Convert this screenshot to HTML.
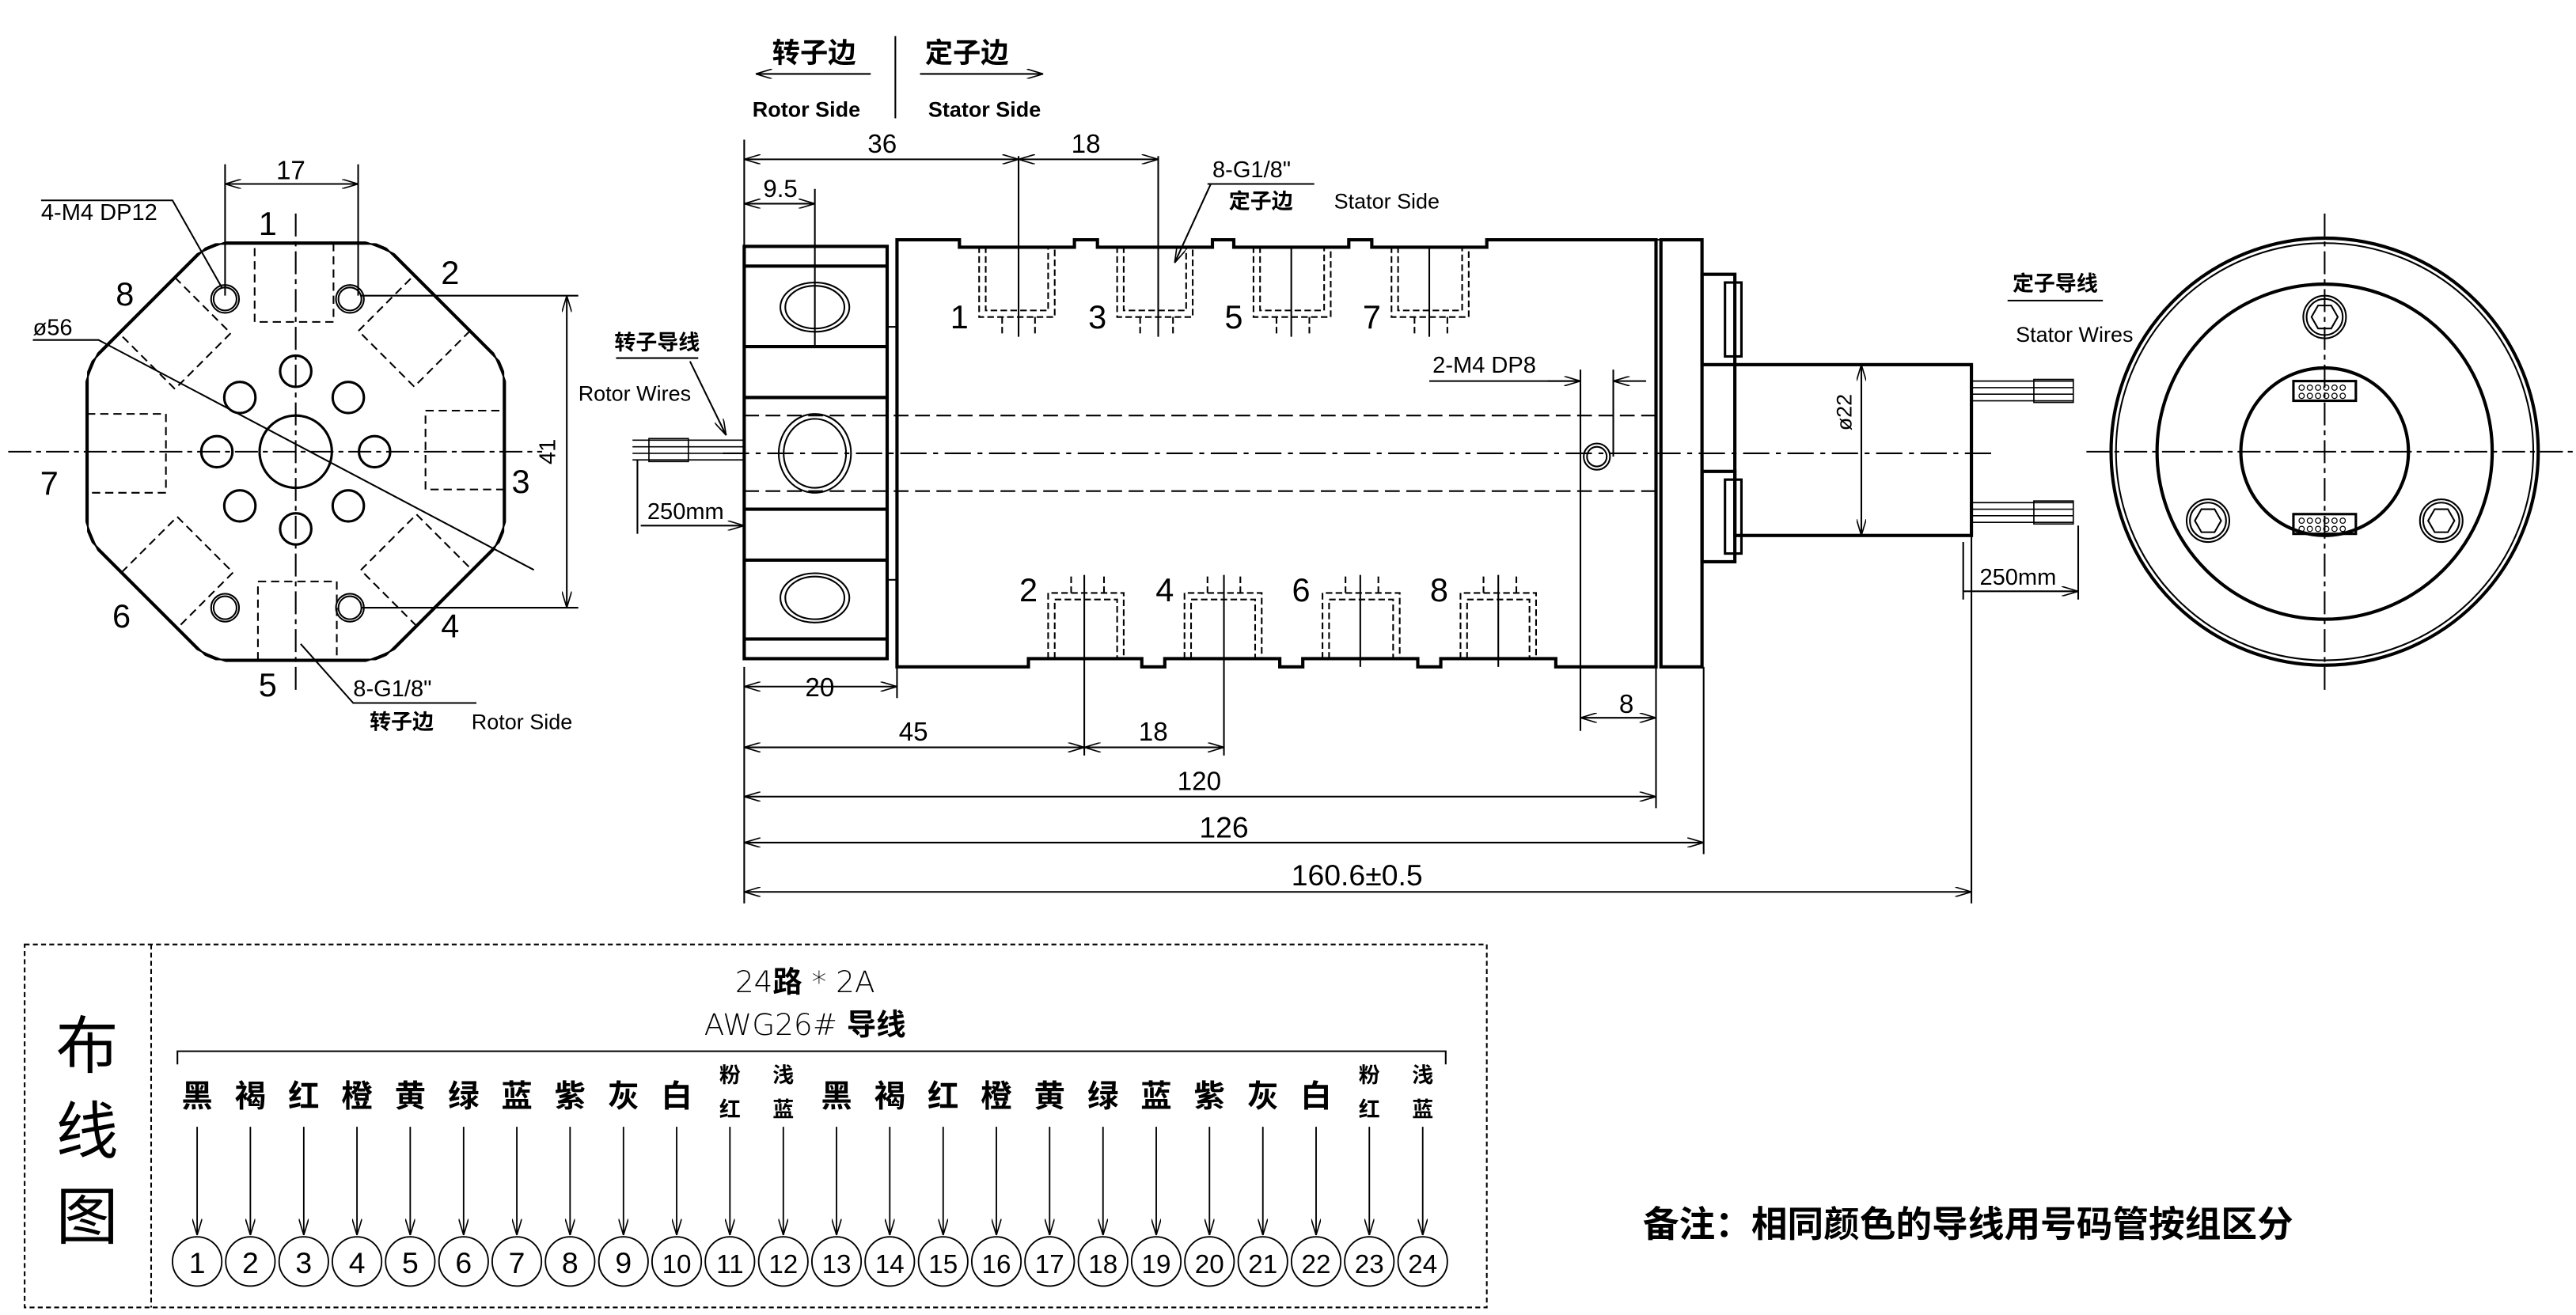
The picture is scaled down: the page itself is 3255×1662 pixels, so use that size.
<!DOCTYPE html>
<html><head><meta charset="utf-8"><style>
html,body{margin:0;padding:0;background:#fff;}
svg{display:block}
text{font-family:"Liberation Sans","Noto Sans CJK SC",sans-serif;fill:#000}
.c{font-family:"Noto Sans CJK SC","WenQuanYi Zen Hei",sans-serif;font-weight:bold}
.t{font-family:"DejaVu Sans","Liberation Sans",sans-serif;font-weight:200}
</style></head><body>
<svg width="3255" height="1662" viewBox="0 0 1568 800.6" preserveAspectRatio="none" xmlns="http://www.w3.org/2000/svg">
<defs>
<marker id="a" viewBox="0 0 10 6" refX="10" refY="3" markerWidth="10" markerHeight="6" orient="auto-start-reverse" markerUnits="userSpaceOnUse"><path d="M0,0 L10,3 L0,6" fill="none" stroke="#000" stroke-width="0.8"/></marker>
<clipPath id="cc"><circle cx="180" cy="275" r="135"/></clipPath>
<clipPath id="co"><polygon points="232.6,148 307,222.4 307,327.6 232.6,402 127.4,402 53,327.6 53,222.4 127.4,148"/></clipPath>
</defs>
<g fill="none" stroke="#000" stroke-width="1">

<!-- LEFT VIEW -->
<polygon points="232.6,148 307,222.4 307,327.6 232.6,402 127.4,402 53,327.6 53,222.4 127.4,148" stroke-width="2" clip-path="url(#cc)"/>
<circle cx="180" cy="275" r="135" stroke-width="2" clip-path="url(#co)"/>
<line x1="5" y1="275" x2="330" y2="275" stroke-dasharray="14,3,3,3"/>
<line x1="180" y1="130" x2="180" y2="420" stroke-dasharray="14,3,3,3"/>
<circle cx="180" cy="275" r="22" stroke-width="1.5"/>
<g stroke-width="1.5">
<circle cx="180" cy="226" r="9.5"/><circle cx="212" cy="242" r="9.5"/><circle cx="228" cy="275" r="9.5"/><circle cx="212" cy="308" r="9.5"/>
<circle cx="180" cy="322" r="9.5"/><circle cx="146" cy="308" r="9.5"/><circle cx="132" cy="275" r="9.5"/><circle cx="146" cy="242" r="9.5"/>
</g>
<g stroke-dasharray="5,3">
<g transform="rotate(0 180 275)"><rect x="155" y="148" width="48" height="48"/></g>
<g transform="rotate(45 180 275)"><rect x="155" y="148" width="48" height="48"/></g>
<g transform="rotate(90 180 275)"><rect x="155" y="148" width="48" height="48"/></g>
<g transform="rotate(135 180 275)"><rect x="155" y="148" width="48" height="48"/></g>
<g transform="rotate(180 180 275)"><rect x="155" y="148" width="48" height="48"/></g>
<g transform="rotate(225 180 275)"><rect x="155" y="148" width="48" height="48"/></g>
<g transform="rotate(270 180 275)"><rect x="155" y="148" width="48" height="48"/></g>
<g transform="rotate(315 180 275)"><rect x="155" y="148" width="48" height="48"/></g>
</g>
<g><circle cx="137" cy="182" r="7"/><circle cx="137" cy="182" r="8.5"/><circle cx="213" cy="182" r="7"/><circle cx="213" cy="182" r="8.5"/>
<circle cx="137" cy="370" r="7"/><circle cx="137" cy="370" r="8.5"/><circle cx="213" cy="370" r="7"/><circle cx="213" cy="370" r="8.5"/></g>
<!-- dims left -->
<line x1="137" y1="100" x2="137" y2="180"/><line x1="218" y1="100" x2="218" y2="180"/>
<line x1="137" y1="112" x2="218" y2="112" marker-start="url(#a)" marker-end="url(#a)"/>
<line x1="220" y1="180" x2="352" y2="180"/><line x1="220" y1="370" x2="352" y2="370"/>
<line x1="345" y1="180" x2="345" y2="370" marker-start="url(#a)" marker-end="url(#a)"/>
<polyline points="25,122 105,122 135,175"/>
<polyline points="20,207 60,207 325,347"/>
<polyline points="290,428 215,428 183,392"/>

<!-- SIDE VIEW -->
<rect x="453" y="150" width="87" height="251" stroke-width="2"/>
<g stroke-width="2"><line x1="453" y1="162" x2="540" y2="162"/><line x1="453" y1="211" x2="540" y2="211"/><line x1="453" y1="242" x2="540" y2="242"/><line x1="453" y1="310" x2="540" y2="310"/><line x1="453" y1="341" x2="540" y2="341"/><line x1="453" y1="389" x2="540" y2="389"/></g>
<ellipse cx="496" cy="187" rx="21" ry="15"/><ellipse cx="496" cy="187" rx="18" ry="13"/>
<ellipse cx="496" cy="276" rx="22" ry="24"/><ellipse cx="496" cy="276" rx="19" ry="21"/>
<ellipse cx="496" cy="364" rx="21" ry="15"/><ellipse cx="496" cy="364" rx="18" ry="13"/>
<line x1="496" y1="115" x2="496" y2="210"/>
<rect x="540" y="199" width="6" height="154"/>
<path d="M546,406 L546,146 L584,146 L584,150.5 L654,150.5 L654,146 L668,146 L668,150.5 L738,150.5 L738,146 L751,146 L751,150.5 L821,150.5 L821,146 L835,146 L835,150.5 L905,150.5 L905,146 L1008,146 L1008,406 L947,406 L947,401 L877,401 L877,406 L863,406 L863,401 L793,401 L793,406 L779,406 L779,401 L709,401 L709,406 L695,406 L695,401 L626,401 L626,406 Z" stroke-width="2"/>
<rect x="1011" y="146" width="25" height="260" stroke-width="2"/>
<line x1="1008" y1="146" x2="1011" y2="146"/>
<g stroke-dasharray="4,2">
<path d="M596,150 V193 H642 V150 M600,150 V189 H638 V150"/>
<path d="M680,150 V193 H726 V150 M684,150 V189 H722 V150"/>
<path d="M763,150 V193 H810 V150 M767,150 V189 H806 V150"/>
<path d="M847,150 V193 H894 V150 M851,150 V189 H890 V150"/>
<path d="M638,401 V361 H684 V401 M642,401 V365 H680 V401"/>
<path d="M721,401 V361 H768 V401 M725,401 V365 H764 V401"/>
<path d="M805,401 V361 H852 V401 M809,401 V365 H848 V401"/>
<path d="M889,401 V361 H935 V401 M893,401 V365 H931 V401"/>
<path d="M610,193 V203 M630,193 V203 M694,193 V203 M714,193 V203 M777,193 V203 M797,193 V203 M861,193 V203 M881,193 V203"/>
<path d="M652,361 V350 M672,361 V350 M735,361 V350 M755,361 V350 M819,361 V350 M839,361 V350 M903,361 V350 M923,361 V350"/>
</g>
<g><line x1="620" y1="95" x2="620" y2="205"/><line x1="705" y1="95" x2="705" y2="205"/><line x1="786" y1="150" x2="786" y2="205"/><line x1="870" y1="150" x2="870" y2="205"/>
<line x1="660" y1="350" x2="660" y2="460"/><line x1="745" y1="350" x2="745" y2="460"/><line x1="828" y1="350" x2="828" y2="406"/><line x1="912" y1="350" x2="912" y2="406"/></g>
<line x1="453" y1="253" x2="1008" y2="253" stroke-dasharray="9,4"/>
<line x1="453" y1="299" x2="1008" y2="299" stroke-dasharray="9,4"/>
<line x1="440" y1="276" x2="1215" y2="276" stroke-dasharray="16,4,3,4"/>
<circle cx="972" cy="278" r="8"/><circle cx="972" cy="278" r="6"/>
<polyline points="870,232 962,232"/>
<line x1="962" y1="225" x2="962" y2="445"/><line x1="982" y1="225" x2="982" y2="278"/>
<line x1="942" y1="232" x2="962" y2="232" marker-end="url(#a)"/><line x1="1002" y1="232" x2="982" y2="232" marker-end="url(#a)"/>
<!-- stator connectors & shaft -->
<rect x="1036" y="167" width="20" height="55" stroke-width="2"/><rect x="1050" y="172" width="10" height="45" stroke-width="1.5"/>
<rect x="1036" y="287" width="20" height="55" stroke-width="2"/><rect x="1050" y="292" width="10" height="45" stroke-width="1.5"/>
<rect x="1056" y="222" width="144" height="104" stroke-width="2"/>
<g stroke-width="0.8">
<path d="M1200,232 H1262 M1200,236 H1262 M1200,240 H1262 M1200,244 H1262"/><rect x="1238" y="231" width="24" height="14"/>
<path d="M1200,306 H1262 M1200,310 H1262 M1200,314 H1262 M1200,318 H1262"/><rect x="1238" y="305" width="24" height="14"/>
<path d="M385,268 H453 M385,272 H453 M385,276 H453 M385,280 H453"/><rect x="395" y="267" width="24" height="14"/>
</g>
<!-- side view dims -->
<line x1="453" y1="85" x2="453" y2="150"/>
<line x1="453" y1="97" x2="620" y2="97" marker-start="url(#a)" marker-end="url(#a)"/>
<line x1="620" y1="97" x2="705" y2="97" marker-start="url(#a)" marker-end="url(#a)"/>
<line x1="453" y1="124" x2="496" y2="124" marker-start="url(#a)" marker-end="url(#a)"/>
<line x1="453" y1="406" x2="453" y2="550"/><line x1="546" y1="406" x2="546" y2="425"/>
<line x1="1008" y1="406" x2="1008" y2="492"/><line x1="1037" y1="406" x2="1037" y2="520"/><line x1="1200" y1="326" x2="1200" y2="550"/>
<line x1="453" y1="418" x2="546" y2="418" marker-start="url(#a)" marker-end="url(#a)"/>
<line x1="962" y1="437" x2="1008" y2="437" marker-start="url(#a)" marker-end="url(#a)"/>
<line x1="453" y1="455" x2="660" y2="455" marker-start="url(#a)" marker-end="url(#a)"/>
<line x1="660" y1="455" x2="745" y2="455" marker-start="url(#a)" marker-end="url(#a)"/>
<line x1="453" y1="485" x2="1008" y2="485" marker-start="url(#a)" marker-end="url(#a)"/>
<line x1="453" y1="513" x2="1037" y2="513" marker-start="url(#a)" marker-end="url(#a)"/>
<line x1="453" y1="543" x2="1200" y2="543" marker-start="url(#a)" marker-end="url(#a)"/>
<line x1="1120" y1="222" x2="1140" y2="222"/><line x1="1120" y1="326" x2="1140" y2="326"/>
<line x1="1133" y1="222" x2="1133" y2="326" marker-start="url(#a)" marker-end="url(#a)"/>
<line x1="388" y1="280" x2="388" y2="325"/>
<line x1="390" y1="320" x2="453" y2="320" marker-end="url(#a)"/>
<line x1="1195" y1="330" x2="1195" y2="365"/><line x1="1265" y1="320" x2="1265" y2="365"/>
<line x1="1195" y1="360" x2="1265" y2="360" marker-end="url(#a)"/>
<polyline points="735,112 800,112"/><line x1="737" y1="112" x2="715" y2="160" marker-end="url(#a)"/>
<line x1="420" y1="220" x2="442" y2="265" marker-end="url(#a)"/>
<line x1="1222" y1="183" x2="1280" y2="183"/><line x1="375" y1="218" x2="425" y2="218"/>
<!-- header -->
<line x1="545" y1="22" x2="545" y2="72"/>
<line x1="530" y1="45" x2="460" y2="45" marker-end="url(#a)"/>
<line x1="560" y1="45" x2="635" y2="45" marker-end="url(#a)"/>

<!-- RIGHT END VIEW -->
<circle cx="1415" cy="275" r="130" stroke-width="2"/><circle cx="1415" cy="275" r="127" stroke-width="1"/>
<circle cx="1415" cy="275" r="102" stroke-width="2"/>
<circle cx="1415" cy="275" r="51" stroke-width="2"/>
<line x1="1270" y1="275" x2="1568" y2="275" stroke-dasharray="14,3,3,3"/>
<line x1="1415" y1="130" x2="1415" y2="420" stroke-dasharray="14,3,3,3"/>
<circle cx="1415" cy="193" r="13"/><circle cx="1415" cy="193" r="11"/><polygon points="1407,193 1411,186 1419,186 1423,193 1419,200 1411,200"/>
<circle cx="1344" cy="317" r="13"/><circle cx="1344" cy="317" r="11"/><polygon points="1336,317 1340,310 1348,310 1352,317 1348,324 1340,324"/>
<circle cx="1486" cy="317" r="13"/><circle cx="1486" cy="317" r="11"/><polygon points="1478,317 1482,310 1490,310 1494,317 1490,324 1482,324"/>
<rect x="1396" y="232" width="38" height="12" stroke-width="1.5"/>
<rect x="1396" y="313" width="38" height="12" stroke-width="1.5"/>
<g stroke-width="0.6"><circle cx="1401" cy="236" r="1.6"/><circle cx="1406" cy="236" r="1.6"/><circle cx="1411" cy="236" r="1.6"/><circle cx="1416" cy="236" r="1.6"/><circle cx="1421" cy="236" r="1.6"/><circle cx="1426" cy="236" r="1.6"/>
<circle cx="1401" cy="241" r="1.6"/><circle cx="1406" cy="241" r="1.6"/><circle cx="1411" cy="241" r="1.6"/><circle cx="1416" cy="241" r="1.6"/><circle cx="1421" cy="241" r="1.6"/><circle cx="1426" cy="241" r="1.6"/>
<circle cx="1401" cy="317" r="1.6"/><circle cx="1406" cy="317" r="1.6"/><circle cx="1411" cy="317" r="1.6"/><circle cx="1416" cy="317" r="1.6"/><circle cx="1421" cy="317" r="1.6"/><circle cx="1426" cy="317" r="1.6"/>
<circle cx="1401" cy="322" r="1.6"/><circle cx="1406" cy="322" r="1.6"/><circle cx="1411" cy="322" r="1.6"/><circle cx="1416" cy="322" r="1.6"/><circle cx="1421" cy="322" r="1.6"/><circle cx="1426" cy="322" r="1.6"/></g>

<!-- TABLE -->
<rect x="15" y="575" width="890" height="221" stroke-dasharray="3,2"/>
<line x1="92" y1="575" x2="92" y2="796" stroke-dasharray="3,2"/>
<polyline points="108,648 108,640 880,640 880,648"/>
</g>

<g fill="none" stroke="#000" stroke-width="0.9">
<line x1="120" y1="686" x2="120" y2="752" marker-end="url(#a)"/><circle cx="120" cy="768" r="15"/>
<line x1="152.4" y1="686" x2="152.4" y2="752" marker-end="url(#a)"/><circle cx="152.4" cy="768" r="15"/>
<line x1="184.9" y1="686" x2="184.9" y2="752" marker-end="url(#a)"/><circle cx="184.9" cy="768" r="15"/>
<line x1="217.3" y1="686" x2="217.3" y2="752" marker-end="url(#a)"/><circle cx="217.3" cy="768" r="15"/>
<line x1="249.7" y1="686" x2="249.7" y2="752" marker-end="url(#a)"/><circle cx="249.7" cy="768" r="15"/>
<line x1="282.2" y1="686" x2="282.2" y2="752" marker-end="url(#a)"/><circle cx="282.2" cy="768" r="15"/>
<line x1="314.6" y1="686" x2="314.6" y2="752" marker-end="url(#a)"/><circle cx="314.6" cy="768" r="15"/>
<line x1="347" y1="686" x2="347" y2="752" marker-end="url(#a)"/><circle cx="347" cy="768" r="15"/>
<line x1="379.5" y1="686" x2="379.5" y2="752" marker-end="url(#a)"/><circle cx="379.5" cy="768" r="15"/>
<line x1="411.9" y1="686" x2="411.9" y2="752" marker-end="url(#a)"/><circle cx="411.9" cy="768" r="15"/>
<line x1="444.3" y1="686" x2="444.3" y2="752" marker-end="url(#a)"/><circle cx="444.3" cy="768" r="15"/>
<line x1="476.8" y1="686" x2="476.8" y2="752" marker-end="url(#a)"/><circle cx="476.8" cy="768" r="15"/>
<line x1="509.2" y1="686" x2="509.2" y2="752" marker-end="url(#a)"/><circle cx="509.2" cy="768" r="15"/>
<line x1="541.6" y1="686" x2="541.6" y2="752" marker-end="url(#a)"/><circle cx="541.6" cy="768" r="15"/>
<line x1="574.1" y1="686" x2="574.1" y2="752" marker-end="url(#a)"/><circle cx="574.1" cy="768" r="15"/>
<line x1="606.5" y1="686" x2="606.5" y2="752" marker-end="url(#a)"/><circle cx="606.5" cy="768" r="15"/>
<line x1="638.9" y1="686" x2="638.9" y2="752" marker-end="url(#a)"/><circle cx="638.9" cy="768" r="15"/>
<line x1="671.4" y1="686" x2="671.4" y2="752" marker-end="url(#a)"/><circle cx="671.4" cy="768" r="15"/>
<line x1="703.8" y1="686" x2="703.8" y2="752" marker-end="url(#a)"/><circle cx="703.8" cy="768" r="15"/>
<line x1="736.2" y1="686" x2="736.2" y2="752" marker-end="url(#a)"/><circle cx="736.2" cy="768" r="15"/>
<line x1="768.7" y1="686" x2="768.7" y2="752" marker-end="url(#a)"/><circle cx="768.7" cy="768" r="15"/>
<line x1="801.1" y1="686" x2="801.1" y2="752" marker-end="url(#a)"/><circle cx="801.1" cy="768" r="15"/>
<line x1="833.5" y1="686" x2="833.5" y2="752" marker-end="url(#a)"/><circle cx="833.5" cy="768" r="15"/>
<line x1="866" y1="686" x2="866" y2="752" marker-end="url(#a)"/><circle cx="866" cy="768" r="15"/>
</g>

<!-- TEXT -->
<g class="t" font-size="16" text-anchor="middle">
<text x="177" y="109">17</text>
<text x="163" y="143" font-size="20">1</text><text x="274" y="173" font-size="20">2</text><text x="317" y="300" font-size="20">3</text><text x="274" y="388" font-size="20">4</text>
<text x="163" y="424" font-size="20">5</text><text x="74" y="382" font-size="20">6</text><text x="30" y="301" font-size="20">7</text><text x="76" y="186" font-size="20">8</text>
<text x="338" y="275" transform="rotate(-90 338 275)" font-size="14">41</text>
<text x="537" y="93">36</text><text x="661" y="93">18</text><text x="475" y="120" font-size="15">9.5</text>
<text x="499" y="424">20</text><text x="556" y="451">45</text><text x="702" y="451">18</text><text x="990" y="434">8</text>
<text x="730" y="481">120</text><text x="745" y="510" font-size="18">126</text><text x="826" y="539" font-size="18">160.6±0.5</text>
<text x="584" y="200" font-size="20">1</text><text x="668" y="200" font-size="20">3</text><text x="751" y="200" font-size="20">5</text><text x="835" y="200" font-size="20">7</text>
<text x="626" y="366" font-size="20">2</text><text x="709" y="366" font-size="20">4</text><text x="792" y="366" font-size="20">6</text><text x="876" y="366" font-size="20">8</text>
<text x="1127" y="251" transform="rotate(-90 1127 251)" font-size="13">ø22</text>
</g>
<g class="t" font-size="14">
<text x="25" y="134">4-M4 DP12</text>
<text x="20" y="204">ø56</text>
<text x="215" y="424">8-G1/8"</text>
<text x="738" y="108">8-G1/8"</text>
<text x="872" y="227">2-M4 DP8</text>
<text x="394" y="316">250mm</text>
<text x="1205" y="356">250mm</text>
</g>
<g font-size="13">
<text class="c" x="225" y="444">转子边</text><text x="287" y="444">Rotor Side</text>
<text class="c" x="748" y="127">定子边</text><text x="812" y="127">Stator Side</text>
<text class="c" x="374" y="213">转子导线</text><text x="352" y="244">Rotor Wires</text>
<text class="c" x="1225" y="177">定子导线</text><text x="1227" y="208">Stator Wires</text>
<text class="c" x="470" y="38" font-size="17">转子边</text><text class="c" x="563" y="38" font-size="17">定子边</text>
<text x="458" y="71" font-weight="bold">Rotor Side</text><text x="565" y="71" font-weight="bold">Stator Side</text>
</g>
<g font-size="38" text-anchor="middle">
<text x="53" y="650" style="font-family:'Noto Sans CJK SC',sans-serif">布</text>
<text x="53" y="702" style="font-family:'Noto Sans CJK SC',sans-serif">线</text>
<text x="53" y="754" style="font-family:'Noto Sans CJK SC',sans-serif">图</text>
</g>
<text x="490" y="604" font-size="18" text-anchor="middle" class="t">24<tspan class="c">路</tspan> * 2A</text>
<text x="490" y="630" font-size="18" text-anchor="middle" class="t">AWG26# <tspan class="c">导线</tspan></text>
<g class="c" font-size="19" text-anchor="middle">
<text x="120" y="674">黑</text><text x="152.4" y="674">褐</text><text x="184.9" y="674">红</text><text x="217.3" y="674">橙</text><text x="249.7" y="674">黄</text><text x="282.2" y="674">绿</text><text x="314.6" y="674">蓝</text><text x="347" y="674">紫</text><text x="379.5" y="674">灰</text><text x="411.9" y="674">白</text>
<text x="509.2" y="674">黑</text><text x="541.6" y="674">褐</text><text x="574.1" y="674">红</text><text x="606.5" y="674">橙</text><text x="638.9" y="674">黄</text><text x="671.4" y="674">绿</text><text x="703.8" y="674">蓝</text><text x="736.2" y="674">紫</text><text x="768.7" y="674">灰</text><text x="801.1" y="674">白</text>
</g>
<g class="c" font-size="13" text-anchor="middle">
<text x="444.3" y="659">粉</text><text x="444.3" y="680">红</text><text x="476.8" y="659">浅</text><text x="476.8" y="680">蓝</text>
<text x="833.5" y="659">粉</text><text x="833.5" y="680">红</text><text x="866" y="659">浅</text><text x="866" y="680">蓝</text>
</g>
<g class="t" font-size="18" text-anchor="middle">
<text x="120" y="775">1</text><text x="152.4" y="775">2</text><text x="184.9" y="775">3</text><text x="217.3" y="775">4</text><text x="249.7" y="775">5</text><text x="282.2" y="775">6</text><text x="314.6" y="775">7</text><text x="347" y="775">8</text><text x="379.5" y="775">9</text><text x="411.9" y="775" font-size="16">10</text><text x="444.3" y="775" font-size="16">11</text><text x="476.8" y="775" font-size="16">12</text>
<text x="509.2" y="775" font-size="16">13</text><text x="541.6" y="775" font-size="16">14</text><text x="574.1" y="775" font-size="16">15</text><text x="606.5" y="775" font-size="16">16</text><text x="638.9" y="775" font-size="16">17</text><text x="671.4" y="775" font-size="16">18</text><text x="703.8" y="775" font-size="16">19</text><text x="736.2" y="775" font-size="16">20</text><text x="768.7" y="775" font-size="16">21</text><text x="801.1" y="775" font-size="16">22</text><text x="833.5" y="775" font-size="16">23</text><text x="866" y="775" font-size="16">24</text>
</g>
<text class="c" x="1000" y="753" font-size="22">备注：相同颜色的导线用号码管按组区分</text>
</svg>
</body></html>
